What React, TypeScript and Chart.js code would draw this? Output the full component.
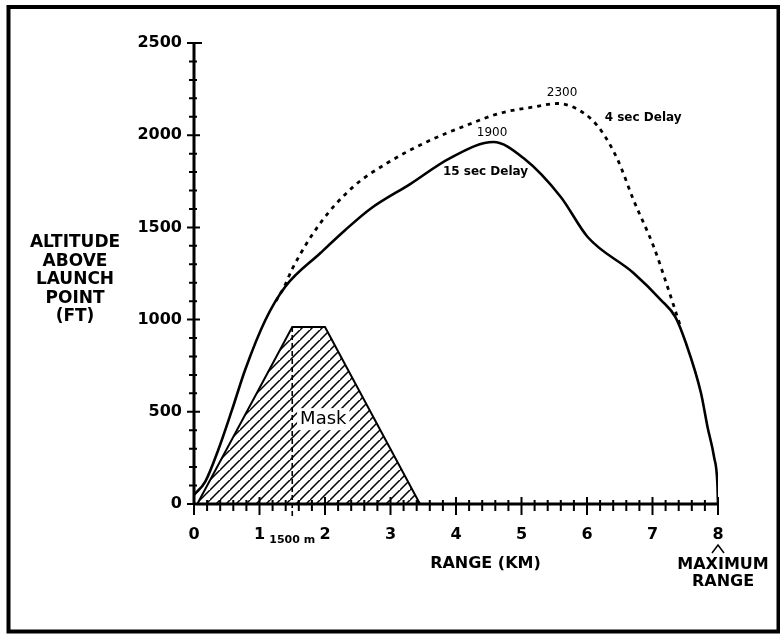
import React, { useEffect, useRef } from 'react';
import { Chart, registerables } from 'chart.js';

Chart.register(...registerables);

// ---- data ----
const rangeMin = 0;
const rangeMax = 8;
const altitudeMin = 0;
const altitudeMax = 2500;

// 15 sec Delay (solid)
const delay15Km = [0, 0.17, 0.37, 0.58, 0.78, 1.09, 1.39, 1.93, 2.31, 2.69, 3.3, 3.91, 4.57, 5.03, 5.6, 6.01, 6.71, 7.13, 7.35, 7.51, 7.74, 7.84, 7.94, 7.99, 8.0];
const delay15Ft = [50, 120, 293, 510, 727, 998, 1177, 1361, 1486, 1600, 1735, 1876, 1963, 1876, 1665, 1448, 1253, 1106, 1014, 873, 602, 418, 255, 114, 0];

// 4 sec Delay (dashed)
const delay4Km = [1.25, 1.38, 1.5, 1.93, 2.43, 2.95, 3.56, 4.17, 4.68, 5.18, 5.55, 5.95, 6.21, 6.47, 6.71, 7.02, 7.23, 7.38, 7.43];
const delay4Ft = [1100, 1180, 1275, 1524, 1720, 1849, 1965, 2055, 2120, 2153, 2172, 2120, 2028, 1866, 1649, 1394, 1177, 1014, 960];

// Terrain mask (hatched trapezoid)
const maskKm = [0.05, 1.5, 2.0, 3.45];
const maskFt = [0, 960, 960, 0];

// 1500 m reference line
const markerKm = [1.5, 1.5];
const markerFt = [-65, 960];

const xMajorStep = 1;
const xMinorStep = 0.2;
const yMajorStep = 500;
const yMinorStep = 100;

const yTitleLines = ['ALTITUDE', 'ABOVE', 'LAUNCH', 'POINT', '(FT)'];
const xTitle = 'RANGE (KM)';
const maxRangeLines = ['MAXIMUM', 'RANGE'];

const FONT = '"DejaVu Sans", "Liberation Sans", Arial, sans-serif';

function zip(xs: number[], ys: number[]) {
  return xs.map((x, i) => ({ x, y: ys[i] }));
}

function isMajor(v: number, step: number) {
  const r = v / step;
  return Math.abs(r - Math.round(r)) < 1e-6;
}

function makeHatch(): CanvasPattern | string {
  const c = document.createElement('canvas');
  const s = 10;
  c.width = s;
  c.height = s;
  const g = c.getContext('2d');
  if (!g) return 'rgba(0,0,0,0.3)';
  g.fillStyle = '#fff';
  g.fillRect(0, 0, s, s);
  g.strokeStyle = '#000';
  g.lineWidth = 1.5;
  g.beginPath();
  g.moveTo(-1, s + 1);
  g.lineTo(s + 1, -1);
  g.moveTo(-1 - s, s + 1);
  g.lineTo(1, -1);
  g.moveTo(s - 1, 2 * s + 1);
  g.lineTo(2 * s + 1, s - 1);
  g.stroke();
  const p = g.createPattern(c, 'repeat');
  return p || 'rgba(0,0,0,0.3)';
}

const overlayPlugin = {
  id: 'overlay',
  afterDraw(chart: any) {
    const ctx: CanvasRenderingContext2D = chart.ctx;
    const xs = chart.scales.x;
    const ys = chart.scales.y;
    const { left, right, top, bottom } = chart.chartArea;
    const X = (v: number) => xs.getPixelForValue(v);
    const Y = (v: number) => ys.getPixelForValue(v);

    ctx.save();
    ctx.strokeStyle = '#000';
    ctx.fillStyle = '#000';

    // frame
    ctx.lineWidth = 4;
    ctx.strokeRect(8.5, 7, 770, 624.5);

    // axes
    ctx.lineWidth = 3;
    ctx.beginPath();
    ctx.moveTo(left, bottom);
    ctx.lineTo(right, bottom);
    ctx.moveTo(left, top - 1);
    ctx.lineTo(left, bottom);
    ctx.stroke();

    // tick marks crossing axes
    ctx.lineWidth = 2;
    ctx.beginPath();
    xs.ticks.forEach((t: any) => {
      const px = X(t.value);
      if (isMajor(t.value, xMajorStep)) {
        ctx.moveTo(px, bottom - 7);
        ctx.lineTo(px, bottom + 11);
      } else {
        ctx.moveTo(px, bottom - 4);
        ctx.lineTo(px, bottom + 7);
      }
    });
    ys.ticks.forEach((t: any) => {
      const py = Y(t.value);
      if (t.value === altitudeMax) {
        ctx.moveTo(left - 7, py);
        ctx.lineTo(left + 8, py);
      } else if (isMajor(t.value, yMajorStep)) {
        ctx.moveTo(left - 7, py);
        ctx.lineTo(left + 6, py);
      } else {
        ctx.moveTo(left - 5, py);
        ctx.lineTo(left + 3, py);
      }
    });
    ctx.stroke();

    // y title
    ctx.textAlign = 'center';
    ctx.textBaseline = 'middle';
    ctx.font = `bold 17px ${FONT}`;
    yTitleLines.forEach((s, i) => ctx.fillText(s, 75, 243 + i * 18.5));

    // x title
    ctx.font = `bold 16px ${FONT}`;
    ctx.fillText(xTitle, X(4.45), 564);

    // maximum range marker
    const px8 = X(rangeMax);
    ctx.lineWidth = 1.5;
    ctx.beginPath();
    ctx.moveTo(px8 - 6, 553);
    ctx.lineTo(px8, 545);
    ctx.lineTo(px8 + 6, 553);
    ctx.stroke();
    ctx.font = `bold 16px ${FONT}`;
    maxRangeLines.forEach((s, i) => ctx.fillText(s, px8 + 5, 565 + i * 17));

    // 1500 m
    ctx.font = `bold 11px ${FONT}`;
    ctx.fillText('1500 m', X(1.5), 540);

    // Mask label
    ctx.font = `18px ${FONT}`;
    ctx.textAlign = 'left';
    const mx = X(1.62);
    const my = Y(460);
    const mw = ctx.measureText('Mask').width;
    ctx.fillStyle = '#fff';
    ctx.fillRect(mx - 3, my - 11, mw + 6, 22);
    ctx.fillStyle = '#000';
    ctx.fillText('Mask', mx, my);

    // curve annotations
    ctx.textAlign = 'center';
    ctx.font = `12px ${FONT}`;
    ctx.fillText('2300', X(5.62), 93);
    ctx.fillText('1900', X(4.55), 133);
    ctx.font = `bold 12px ${FONT}`;
    ctx.textAlign = 'left';
    ctx.fillText('4 sec Delay', X(6.27), 118);
    ctx.fillText('15 sec Delay', X(3.8), 172);

    ctx.restore();
  },
};

export default function App() {
  const ref = useRef<HTMLCanvasElement | null>(null);

  useEffect(() => {
    const canvas = ref.current;
    if (!canvas) return;
    const hatch = makeHatch();
    const chart = new Chart(canvas, {
      type: 'line',
      data: {
        datasets: [
          {
            label: '15 sec Delay',
            data: zip(delay15Km, delay15Ft),
            borderColor: '#000',
            borderWidth: 2.6,
            pointRadius: 0,
            cubicInterpolationMode: 'monotone',
            fill: false,
            order: 1,
          },
          {
            label: '4 sec Delay',
            data: zip(delay4Km, delay4Ft),
            borderColor: '#000',
            borderWidth: 2.8,
            borderDash: [4, 5],
            pointRadius: 0,
            cubicInterpolationMode: 'monotone',
            fill: false,
            order: 2,
          },
          {
            label: 'Mask',
            data: zip(maskKm, maskFt),
            borderColor: '#000',
            borderWidth: 2,
            backgroundColor: hatch as any,
            pointRadius: 0,
            tension: 0,
            fill: 'origin',
            order: 4,
          },
          {
            label: '1500 m',
            data: zip(markerKm, markerFt),
            borderColor: '#000',
            borderWidth: 1.6,
            borderDash: [5, 3],
            pointRadius: 0,
            tension: 0,
            fill: false,
            clip: false as any,
            order: 3,
          },
        ],
      },
      options: {
        animation: false,
        responsive: false,
        devicePixelRatio: 1,
        layout: { padding: { left: 0, right: 62, top: 43, bottom: 0 } },
        plugins: {
          legend: { display: false },
          tooltip: { enabled: false },
        },
        scales: {
          x: {
            type: 'linear',
            min: rangeMin,
            max: rangeMax,
            border: { display: false },
            grid: { display: false, drawTicks: false },
            ticks: {
              stepSize: xMinorStep,
              autoSkip: false,
              maxRotation: 0,
              padding: 21,
              color: '#000',
              font: { family: FONT, size: 16, weight: 'bold' },
              callback: (v: any) => (isMajor(Number(v), xMajorStep) ? String(Math.round(Number(v))) : ''),
            },
            afterFit: (s: any) => {
              s.height = 130;
            },
          },
          y: {
            type: 'linear',
            min: altitudeMin,
            max: altitudeMax,
            border: { display: false },
            grid: { display: false, drawTicks: false },
            ticks: {
              stepSize: yMinorStep,
              autoSkip: false,
              padding: 12,
              color: '#000',
              font: { family: FONT, size: 16, weight: 'bold' },
              callback: (v: any) => (isMajor(Number(v), yMajorStep) ? String(Math.round(Number(v))) : ''),
            },
            afterFit: (s: any) => {
              s.width = 194;
            },
          },
        },
      },
      plugins: [overlayPlugin],
    });
    return () => chart.destroy();
  }, []);

  return (
    <div style={{ position: 'fixed', left: 0, top: 0, width: 780, height: 634, background: '#fff' }}>
      <canvas ref={ref} width={780} height={634} style={{ display: 'block', width: 780, height: 634 }} />
    </div>
  );
}
